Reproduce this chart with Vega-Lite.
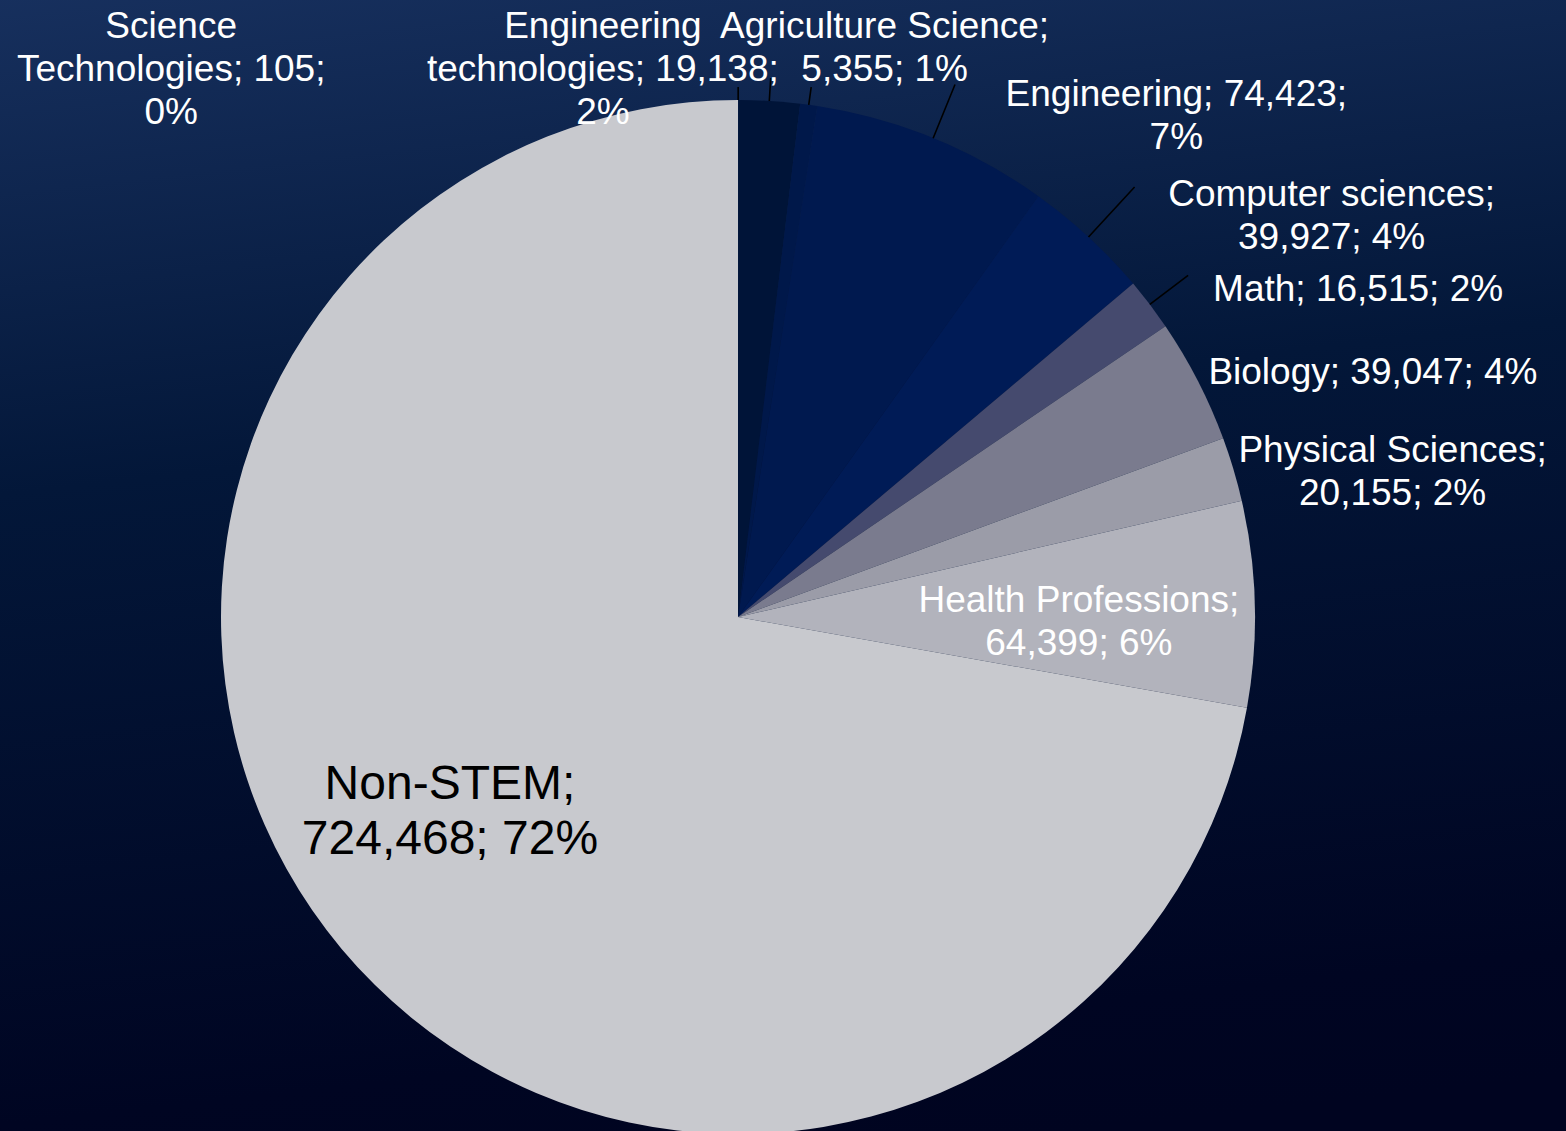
{
  "$schema": "https://vega.github.io/schema/vega-lite/v6.json",
  "width": 1656,
  "height": 1234,
  "padding": {"left": -90, "top": 0, "right": 0, "bottom": -103},
  "autosize": {"type": "none"},
  "background": "#000522",
  "config": {
    "view": {"stroke": null},
    "font": "Liberation Sans"
  },
  "layer": [
    {
      "data": {"values": [{"part": "background"}]},
      "mark": {
        "type": "rect",
        "fill": {
          "gradient": "linear",
          "x1": 0, "y1": 0, "x2": 0.15, "y2": 1,
          "stops": [
            {"offset": 0, "color": "#17305e"},
            {"offset": 0.4, "color": "#031739"},
            {"offset": 0.9, "color": "#000522"},
            {"offset": 1, "color": "#000420"}
          ]
        }
      },
      "encoding": {
        "x": {"value": 0},
        "x2": {"value": "width"},
        "y": {"value": 0},
        "y2": {"value": "height"}
      }
    },
    {
      "data": {"name": "fields"},
      "mark": {"type": "arc", "radius": 517},
      "encoding": {
        "theta": {"field": "count", "type": "quantitative", "stack": true},
        "order": {"field": "i", "type": "quantitative"},
        "color": {
          "field": "category",
          "type": "nominal",
          "legend": null,
          "scale": {
            "domain": ["Science Technologies", "Engineering technologies", "Agriculture Science", "Engineering", "Computer sciences", "Math", "Biology", "Physical Sciences", "Health Professions", "Non-STEM"],
            "range": ["#0a1a40", "#001438", "#00184a", "#00194f", "#001b56", "#454a6e", "#7a7b8e", "#9b9ca8", "#b2b3bc", "#c8c9ce"]
          }
        }
      }
    },
    {
      "data": {"name": "fields"},
      "mark": {
        "type": "arc",
        "radius2": 517,
        "radius": {"expr": "[530, 540, 535, 575, 585, 565, 518, 518, 518, 518][datum.i - 1]"},
        "padAngle": 1.2,
        "fill": null,
        "stroke": "#000000",
        "strokeWidth": 1.6
      },
      "encoding": {
        "theta": {"field": "count", "type": "quantitative", "stack": true},
        "order": {"field": "i", "type": "quantitative"},
        "detail": {"field": "category"},
        "strokeOpacity": {"condition": {"test": "datum.i >= 7", "value": 0}, "value": 1}
      }
    },
    {
      "data": {"name": "fields"},
      "mark": {
        "type": "text",
        "align": "center",
        "baseline": "middle",
        "lineBreak": "\n",
        "font": "Liberation Sans",
        "radius": {"expr": "datum.i == 10 ? 347 : datum.i == 9 ? 340 : 560"},
        "dx": {"expr": "[-567, -169, 70, 227, 214, 174, 137, 118, 1, -22][datum.i - 1]"},
        "dy": {"expr": "[-30, -31, -35, -3, -10, 12, 12, -6, -7, -55][datum.i - 1]"},
        "lineHeight": {"expr": "datum.i == 10 ? 55 : 43"}
      },
      "encoding": {
        "theta": {"field": "count", "type": "quantitative", "stack": true},
        "order": {"field": "i", "type": "quantitative"},
        "detail": {"field": "category"},
        "text": {"field": "label"},
        "color": {"condition": {"test": "datum.i == 10", "value": "#000000"}, "value": "#ffffff"},
        "size": {"condition": {"test": "datum.i == 10", "value": 48}, "value": 37}
      }
    }
  ],
  "datasets": {
    "fields": [
      {"i": 1, "category": "Science Technologies", "count": 105, "label": "Science\nTechnologies; 105;\n0%"},
      {"i": 2, "category": "Engineering technologies", "count": 19138, "label": "Engineering\ntechnologies; 19,138;\n2%"},
      {"i": 3, "category": "Agriculture Science", "count": 5355, "label": "Agriculture Science;\n5,355; 1%"},
      {"i": 4, "category": "Engineering", "count": 74423, "label": "Engineering; 74,423;\n7%"},
      {"i": 5, "category": "Computer sciences", "count": 39927, "label": "Computer sciences;\n39,927; 4%"},
      {"i": 6, "category": "Math", "count": 16515, "label": "Math; 16,515; 2%"},
      {"i": 7, "category": "Biology", "count": 39047, "label": "Biology; 39,047; 4%"},
      {"i": 8, "category": "Physical Sciences", "count": 20155, "label": "Physical Sciences;\n20,155; 2%"},
      {"i": 9, "category": "Health Professions", "count": 64399, "label": "Health Professions;\n64,399; 6%"},
      {"i": 10, "category": "Non-STEM", "count": 724468, "label": "Non-STEM;\n724,468; 72%"}
    ]
  }
}
